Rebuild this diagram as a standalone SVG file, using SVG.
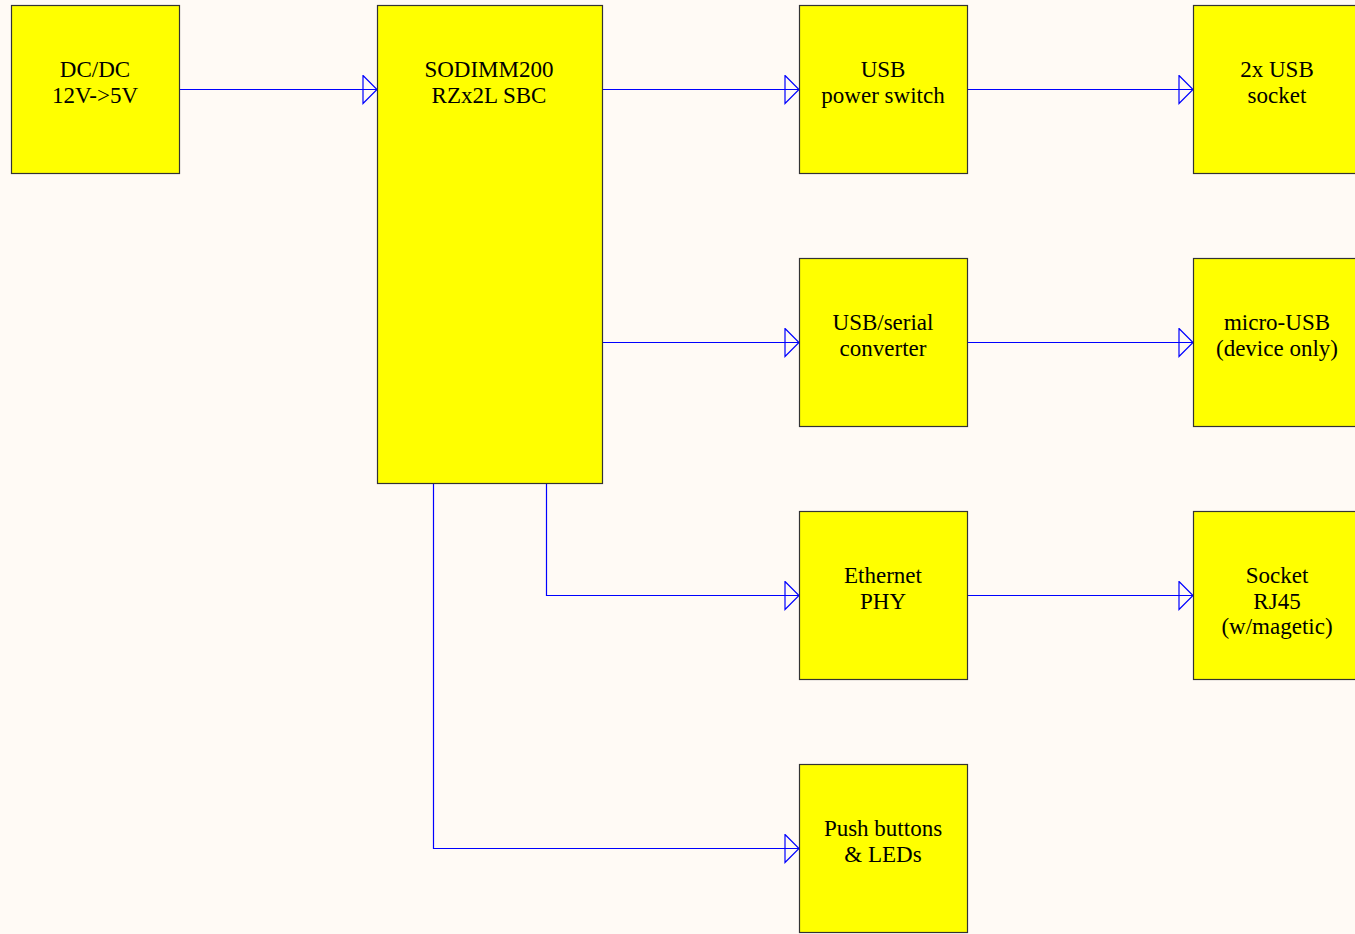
<svg xmlns="http://www.w3.org/2000/svg" width="1355" height="934" viewBox="0 0 1355 934">
<defs>
<marker id="arr" markerUnits="userSpaceOnUse" markerWidth="16" markerHeight="30" refX="15" refY="15" orient="auto" viewBox="0 0 16 30">
<path d="M1,1 L15,15 L1,29 Z" fill="none" stroke="#0000ff" stroke-width="1.2"/>
</marker>
<style>
.box{fill:#ffff00;stroke:#333;stroke-width:1.2}
.t{font-family:"Liberation Serif","Times New Roman",serif;font-size:23px;fill:#000;text-anchor:middle}
.c{fill:none;stroke:#0000ff;stroke-width:1.2;marker-end:url(#arr)}
</style>
</defs>
<rect width="1355" height="934" fill="#fffaf5"/>
<g id="connectors">
<path class="c" d="M180,89.5 H377"/>
<path class="c" d="M602,89.5 H799"/>
<path class="c" d="M968,89.5 H1193"/>
<path class="c" d="M602,342.5 H799"/>
<path class="c" d="M968,342.5 H1193"/>
<path class="c" d="M546.5,483 V595.5 H799"/>
<path class="c" d="M968,595.5 H1193"/>
<path class="c" d="M433.5,483 V848.5 H799"/>
</g>
<g id="dcdc"><rect class="box" x="11.5" y="5.5" width="168" height="168"/><text class="t" x="95" y="77">DC/DC</text><text class="t" x="95" y="103">12V-&gt;5V</text></g>
<g id="sodimm"><rect class="box" x="377.5" y="5.5" width="225" height="478"/><text class="t" x="489" y="77">SODIMM200</text><text class="t" x="489" y="103">RZx2L SBC</text></g>
<g id="usbpwr"><rect class="box" x="799.5" y="5.5" width="168" height="168"/><text class="t" x="883" y="77">USB</text><text class="t" x="883" y="103">power switch</text></g>
<g id="usbsocket"><rect class="box" x="1193.5" y="5.5" width="168" height="168"/><text class="t" x="1277" y="77">2x USB</text><text class="t" x="1277" y="103">socket</text></g>
<g id="usbserial"><rect class="box" x="799.5" y="258.5" width="168" height="168"/><text class="t" x="883" y="330">USB/serial</text><text class="t" x="883" y="356">converter</text></g>
<g id="microusb"><rect class="box" x="1193.5" y="258.5" width="168" height="168"/><text class="t" x="1277" y="330">micro-USB</text><text class="t" x="1277" y="356">(device only)</text></g>
<g id="ethphy"><rect class="box" x="799.5" y="511.5" width="168" height="168"/><text class="t" x="883" y="583">Ethernet</text><text class="t" x="883" y="609">PHY</text></g>
<g id="rj45"><rect class="box" x="1193.5" y="511.5" width="168" height="168"/><text class="t" x="1277" y="583">Socket</text><text class="t" x="1277" y="609">RJ45</text><text class="t" x="1277" y="634">(w/magetic)</text></g>
<g id="buttons"><rect class="box" x="799.5" y="764.5" width="168" height="168"/><text class="t" x="883" y="836">Push buttons</text><text class="t" x="883" y="862">&amp; LEDs</text></g>
</svg>
